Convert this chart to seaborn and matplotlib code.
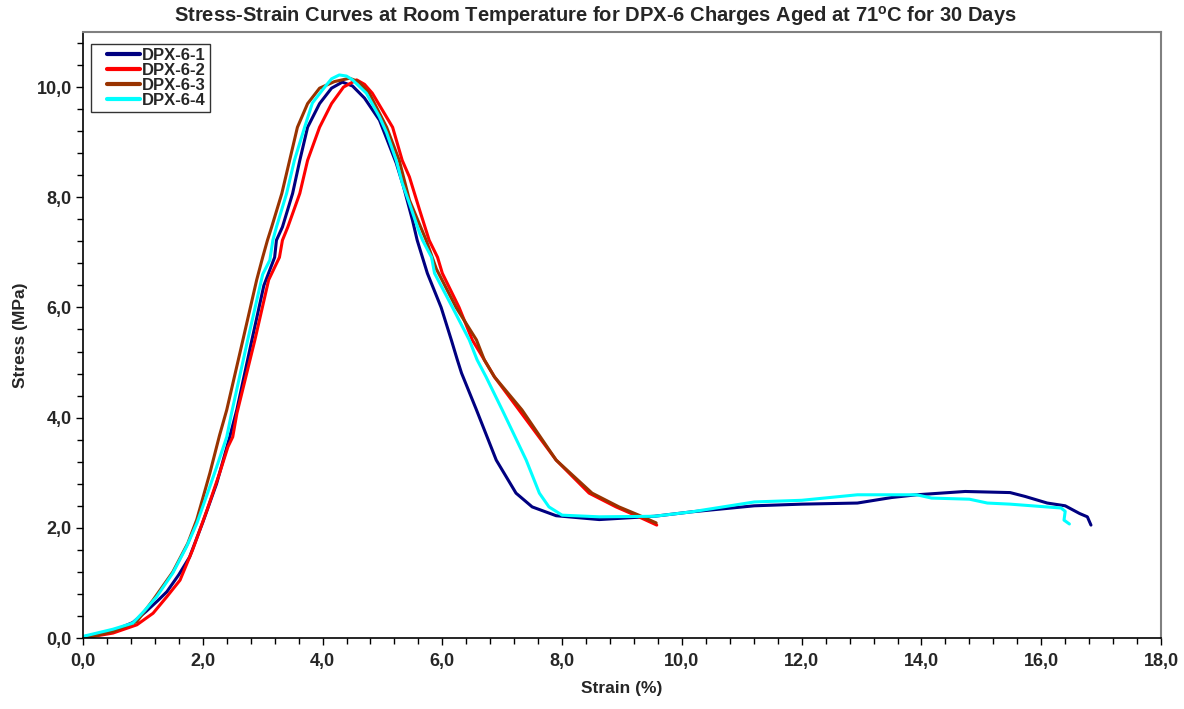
import numpy as np
import pandas as pd
import matplotlib
matplotlib.use("Agg")
import matplotlib.pyplot as plt
from matplotlib.ticker import MultipleLocator, FixedLocator, FixedFormatter
from matplotlib.legend_handler import HandlerLine2D
import seaborn as sns

# Strain (%) / stress (MPa) readings for each charge
dpx1_strain = [0.0, 0.5, 0.83, 1.05, 1.25, 1.4, 1.6, 1.78, 2.0, 2.23, 2.45, 2.57, 2.82, 3.02, 3.2,
               3.23, 3.33, 3.5, 3.62, 3.75, 3.95, 4.15, 4.33, 4.5, 4.7, 4.95, 5.23, 5.35, 5.5, 5.58,
               5.75, 5.98, 6.15, 6.25, 6.32, 6.57, 6.9, 7.23, 7.5, 7.9, 8.62, 9.54, 10.16, 11.21,
               12.0, 12.93, 13.5, 13.92, 14.73, 15.48, 15.73, 16.1, 16.4, 16.64, 16.77, 16.83]
dpx1_stress = [0.02, 0.13, 0.28, 0.48, 0.68, 0.84, 1.15, 1.47, 2.1, 2.8, 3.65, 4.15, 5.41, 6.4, 6.91,
               7.22, 7.46, 8.07, 8.67, 9.27, 9.7, 9.98, 10.09, 10.02, 9.8, 9.4, 8.62, 8.2, 7.59, 7.22,
               6.62, 6.0, 5.41, 5.05, 4.81, 4.14, 3.23, 2.63, 2.38, 2.22, 2.15, 2.21, 2.29, 2.4,
               2.43, 2.45, 2.55, 2.6, 2.66, 2.64, 2.57, 2.45, 2.4, 2.26, 2.2, 2.05]

dpx2_strain = [0.12, 0.5, 0.9, 1.17, 1.4, 1.62, 1.83, 2.07, 2.28, 2.42, 2.5, 2.57, 2.87, 3.1, 3.28,
               3.33, 3.42, 3.62, 3.75, 3.95, 4.15, 4.35, 4.57, 4.7, 4.83, 5.17, 5.33, 5.45, 5.62, 5.78,
               5.92, 6.0, 6.28, 6.5, 6.7, 6.87, 7.28, 7.9, 8.45, 8.9, 9.28, 9.58]
dpx2_stress = [0.02, 0.09, 0.24, 0.45, 0.75, 1.05, 1.6, 2.32, 2.99, 3.47, 3.65, 4.08, 5.41, 6.5, 6.91,
               7.22, 7.46, 8.07, 8.67, 9.27, 9.7, 10.0, 10.13, 10.05, 9.89, 9.27, 8.67, 8.37, 7.77, 7.22,
               6.91, 6.62, 6.0, 5.41, 5.05, 4.74, 4.14, 3.23, 2.63, 2.38, 2.2, 2.05]

dpx3_strain = [0.05, 0.5, 0.9, 1.17, 1.5, 1.75, 1.9, 2.12, 2.28, 2.4, 2.67, 2.9, 3.0, 3.08, 3.15,
               3.32, 3.45, 3.58, 3.75, 3.95, 4.2, 4.45, 4.6, 4.78, 5.07, 5.28, 5.45, 5.73, 5.9, 6.23,
               6.57, 6.7, 6.87, 7.33, 7.9, 8.5, 8.95, 9.28, 9.57]
dpx3_stress = [0.0, 0.12, 0.3, 0.69, 1.2, 1.72, 2.15, 3.0, 3.68, 4.14, 5.41, 6.5, 6.91, 7.22, 7.46,
               8.07, 8.67, 9.27, 9.7, 9.98, 10.1, 10.16, 10.1, 9.89, 9.27, 8.67, 7.95, 7.22, 6.7, 6.0,
               5.41, 5.05, 4.74, 4.14, 3.23, 2.63, 2.38, 2.23, 2.09]

dpx4_strain = [0.0, 0.5, 0.83, 1.03, 1.23, 1.5, 1.73, 1.9, 2.08, 2.23, 2.4, 2.48, 2.75, 3.0, 3.12,
               3.17, 3.23, 3.4, 3.53, 3.7, 3.83, 4.0, 4.15, 4.28, 4.4, 4.5, 4.73, 4.95, 5.07, 5.23,
               5.33, 5.45, 5.62, 5.67, 5.82, 5.87, 6.17, 6.45, 6.58, 6.73, 7.0, 7.4, 7.62, 7.78,
               8.0, 8.62, 9.54, 10.16, 11.21, 12.0, 12.93, 13.55, 13.92, 14.17, 14.8, 15.1, 15.48,
               16.33, 16.4, 16.38, 16.47]
dpx4_stress = [0.03, 0.16, 0.27, 0.5, 0.75, 1.18, 1.66, 2.08, 2.63, 3.1, 3.65, 4.08, 5.41, 6.6, 6.86,
               7.22, 7.46, 8.07, 8.67, 9.27, 9.71, 9.95, 10.15, 10.22, 10.2, 10.13, 9.89, 9.46, 9.17, 8.67,
               8.26, 7.89, 7.35, 7.22, 6.91, 6.62, 6.0, 5.41, 5.05, 4.74, 4.14, 3.23, 2.63, 2.38,
               2.23, 2.2, 2.21, 2.29, 2.47, 2.5, 2.6, 2.6, 2.6, 2.54, 2.52, 2.45, 2.43,
               2.36, 2.3, 2.14, 2.07]

series_names = ["DPX-6-1", "DPX-6-2", "DPX-6-3", "DPX-6-4"]
series_colors = ["#000080", "#FF0000", "#993300", "#00FFFF"]

x_ticks = [0, 2, 4, 6, 8, 10, 12, 14, 16, 18]
x_tick_labels = ["0,0", "2,0", "4,0", "6,0", "8,0", "10,0", "12,0", "14,0", "16,0", "18,0"]
y_ticks = [0, 2, 4, 6, 8, 10]
y_tick_labels = ["0,0", "2,0", "4,0", "6,0", "8,0", "10,0"]

frames = []
for name, xs, ys in zip(series_names,
                        [dpx1_strain, dpx2_strain, dpx3_strain, dpx4_strain],
                        [dpx1_stress, dpx2_stress, dpx3_stress, dpx4_stress]):
    frames.append(pd.DataFrame({"strain": xs, "stress": ys, "charge": name}))
df = pd.concat(frames, ignore_index=True)

sns.set_style("white")
plt.rcParams["font.family"] = ["Liberation Sans", "DejaVu Sans"]
plt.rcParams["mathtext.fontset"] = "custom"
plt.rcParams["mathtext.rm"] = "Liberation Sans:bold"
plt.rcParams["mathtext.bf"] = "Liberation Sans:bold"

fig = plt.figure(figsize=(11.84, 7.09), dpi=100)
ax = fig.add_axes([0.0701, 0.1001, 0.9105, 0.8548])

sns.lineplot(data=df, x="strain", y="stress", hue="charge", hue_order=series_names,
             palette=series_colors, sort=False, estimator=None,
             linewidth=2.2, ax=ax, legend=False)

ax.set_xlim(0, 18)
ax.set_ylim(0, 11)
ax.xaxis.set_major_locator(FixedLocator(x_ticks))
ax.xaxis.set_major_formatter(FixedFormatter(x_tick_labels))
ax.yaxis.set_major_locator(FixedLocator(y_ticks))
ax.yaxis.set_major_formatter(FixedFormatter(y_tick_labels))
ax.xaxis.set_minor_locator(MultipleLocator(0.4))
ax.yaxis.set_minor_locator(MultipleLocator(0.4))
ax.tick_params(which="both", direction="out", color="black", width=1,
               bottom=True, left=True, top=False, right=False)
ax.tick_params(which="major", length=5, labelsize=13)
ax.tick_params(axis="x", which="major", pad=6)
ax.tick_params(axis="y", which="major", pad=3)
ax.tick_params(which="minor", length=4)
for lbl in ax.get_xticklabels() + ax.get_yticklabels():
    lbl.set_fontweight("bold")

for side in ["left", "bottom"]:
    ax.spines[side].set_color("black")
    ax.spines[side].set_linewidth(1.2)
for side in ["top", "right"]:
    ax.spines[side].set_color("#808080")
    ax.spines[side].set_linewidth(1.5)

ax.set_xlabel("Strain (%)", fontsize=12.5, fontweight="bold", labelpad=8)
ax.set_ylabel("Stress (MPa)", fontsize=12.5, fontweight="bold", labelpad=6)
fig.text(0.5025, 0.977,
         "Stress-Strain Curves at Room Temperature for DPX-6 Charges Aged at 71$^{\\mathrm{o}}$C for 30 Days",
         fontsize=14.5, fontweight="bold", ha="center", va="center")


class InsetLineHandler(HandlerLine2D):
    """Legend line that starts a little after the left edge of its handle box."""

    def __init__(self, inset_em=0.72, **kw):
        super().__init__(**kw)
        self.inset_em = inset_em

    def create_artists(self, legend, orig_handle, xdescent, ydescent, width, height,
                       fontsize, trans):
        artists = super().create_artists(legend, orig_handle, xdescent, ydescent,
                                         width, height, fontsize, trans)
        line = artists[0]
        xd = np.asarray(line.get_xdata(), dtype=float)
        line.set_xdata([xd[0] + self.inset_em * fontsize, xd[-1]])
        line.set_ydata(np.asarray(line.get_ydata(), dtype=float)[:1].repeat(2))
        return artists


handles = [plt.Line2D([], [], color=c, linewidth=3) for c in series_colors]
leg = ax.legend(handles, series_names, loc="upper left", bbox_to_anchor=(0.0073, 0.98),
                frameon=True, fancybox=False, shadow=False, edgecolor="black",
                prop={"weight": "bold", "size": 12}, handlelength=2.7, handletextpad=0.12,
                labelspacing=0.0, borderpad=0.25, borderaxespad=0,
                handler_map={plt.Line2D: InsetLineHandler()})
leg.get_frame().set_linewidth(1.0)

fig.savefig("out.png", dpi=100, facecolor="white")
